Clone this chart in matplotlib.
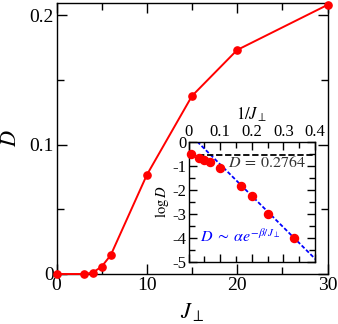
import numpy as np
import matplotlib
matplotlib.use("Agg")
import matplotlib.pyplot as plt
from matplotlib.ticker import MultipleLocator, FuncFormatter

plt.rcParams['font.family'] = ['Liberation Serif', 'DejaVu Serif']
plt.rcParams['mathtext.fontset'] = 'stix'
plt.rcParams['axes.unicode_minus'] = False

# main data
J_perp = [0, 3, 4, 5, 6, 10, 15, 20, 30]
D_vals = [0.0, 0.0, 0.001, 0.0057, 0.0145, 0.0765, 0.1375, 0.173, 0.2078]

# inset data
inv_J = [0.007, 1/30, 1/20, 1/15, 0.1, 1/6, 0.2, 0.25, 1/3]
logD = [-0.53, -0.68, -0.76, -0.84, -1.10, -1.83, -2.26, -3.00, -3.99]
D_inf = 0.2764
alpha = 2.32
beta = 30.1

fig = plt.figure(figsize=(3.38, 3.24), dpi=100)
ax = fig.add_axes([56.5/338, 1-274/324, (327.5-56.5)/338, (274-2.7)/324])
ax.plot(J_perp, D_vals, '-o', color='red', lw=1.4, ms=5.2, clip_on=False, zorder=3)
ax.set_xlim(0, 30)
ax.set_ylim(0, 0.2095)
ax.xaxis.set_major_locator(MultipleLocator(10))
ax.xaxis.set_minor_locator(MultipleLocator(5))
ax.yaxis.set_major_locator(MultipleLocator(0.1))
ax.yaxis.set_minor_locator(MultipleLocator(0.05))
ax.yaxis.set_major_formatter(FuncFormatter(lambda v, p: '0' if abs(v) < 1e-9 else f'{v:.1f}'))
ax.tick_params(which='both', direction='in', top=True, right=True, labelsize=14, pad=2)
ax.tick_params(which='major', length=7, width=1)
ax.tick_params(which='minor', length=5, width=1)
for s in ax.spines.values():
    s.set_linewidth(1)
ax.set_xlabel(r'$J_\perp$', fontsize=16, labelpad=5)
ax.set_ylabel(r'$D$', fontsize=16, labelpad=6)

# inset
ai = fig.add_axes([188.5/338, 1-262/324, (315-188.5)/338, (262-141.7)/324])
xx = np.linspace(0, 0.41, 200)
ai.plot(xx, np.log10(alpha) - beta*xx/np.log(10), ls=(0, (2.2, 1.2)), color='blue', lw=1.3, zorder=2)
ai.axhline(np.log10(D_inf), ls=(0, (3.5, 1.5)), color='black', lw=1.3, zorder=2)
ai.plot(inv_J, logD, 'o', color='red', ms=5.8, clip_on=False, zorder=3)
ai.set_xlim(0, 0.4)
ai.set_ylim(-5, 0)
ai.xaxis.set_major_locator(MultipleLocator(0.1))
ai.xaxis.set_minor_locator(MultipleLocator(0.05))
ai.yaxis.set_major_locator(MultipleLocator(1))
ai.yaxis.set_minor_locator(MultipleLocator(0.5))
ai.xaxis.set_major_formatter(FuncFormatter(lambda v, p: '0' if abs(v) < 1e-9 else f'{v:.1f}'))
ai.yaxis.set_major_formatter(FuncFormatter(lambda v, p: f'{int(round(v))}'))
ai.xaxis.set_label_position('top')
ai.tick_params(which='both', direction='in', top=True, right=True, bottom=True,
               labeltop=True, labelbottom=False, labelsize=12, pad=1.5)
ai.tick_params(which='major', length=6, width=1)
ai.tick_params(which='minor', length=4, width=1)
for s in ai.spines.values():
    s.set_linewidth(1)
ai.set_xlabel(r'$1/J_\perp$', fontsize=12, labelpad=3)
ai.set_ylabel(r'$\log D$', fontsize=10.5, labelpad=1)
ai.text(0.372, -0.88, r'$D\:=\:0.2764$', fontsize=11.5, ha='right', va='center', color='#333333')
ai.text(0.035, -3.95, r'$D\;\sim\;\alpha e^{-\beta/J_\perp}$', fontsize=11.5, ha='left', va='center', color='blue')

fig.savefig('out.png', dpi=100)
